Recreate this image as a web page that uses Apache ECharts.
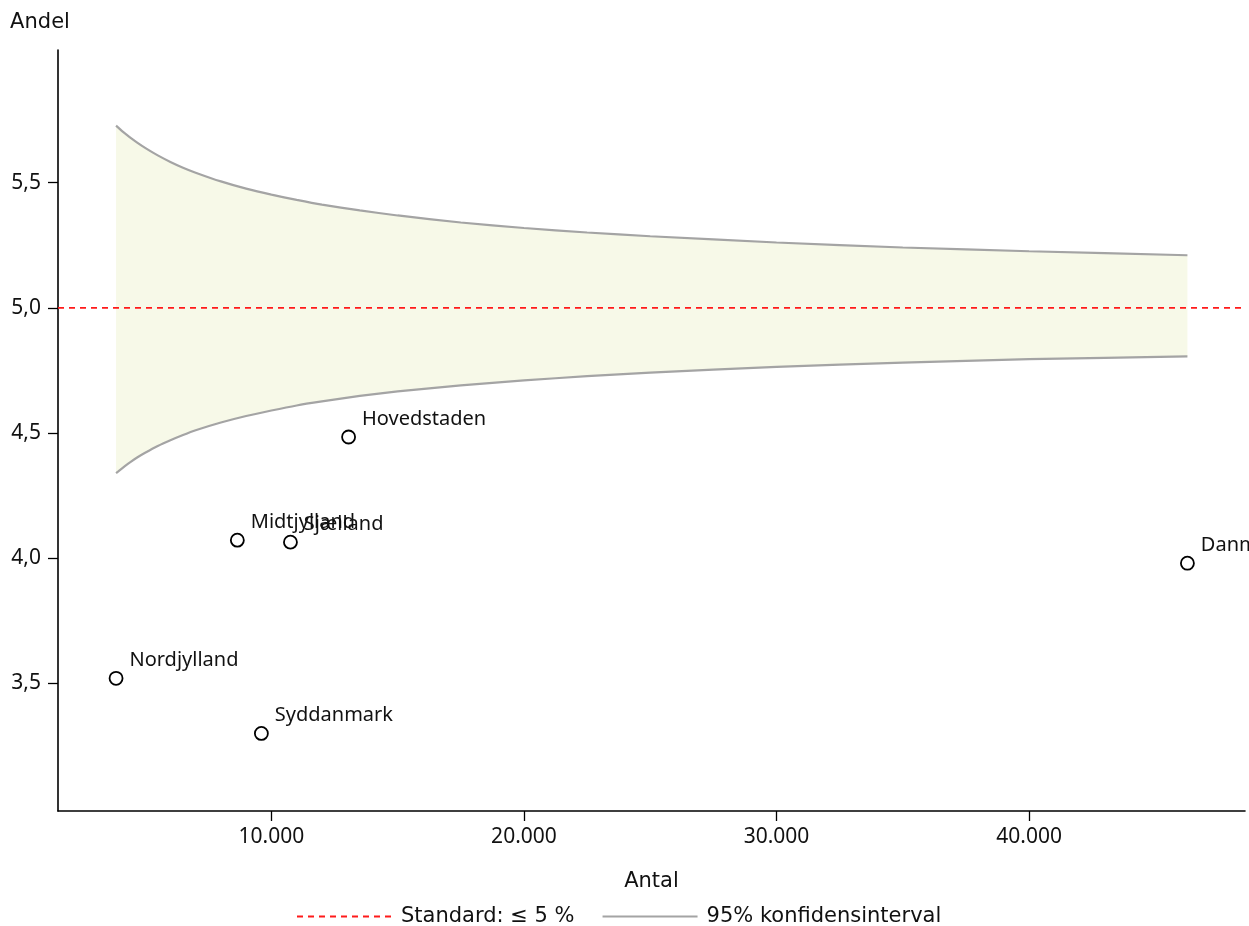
<!DOCTYPE html>
<html>
<head>
<meta charset="utf-8">
<script src="https://cdn.jsdelivr.net/npm/echarts@6/dist/echarts.min.js"></script>
<style>html,body{margin:0;padding:0;background:#fff}#c{width:1249px;height:926px}</style>
</head>
<body>
<div id="c"></div>
<script>
// Regions (points)
const regions = ['Nordjylland', 'Midtjylland', 'Sjælland', 'Syddanmark', 'Hovedstaden', 'Danmark'];
const antal = [3849, 8651, 10754, 9603, 13056, 46270];
const andel = [3.52, 4.072, 4.064, 3.30, 4.484, 3.98];

// Confidence band
const bandN = [3849, 3950, 4100, 4250, 4400, 4700, 5000, 5500, 6000, 6500, 7000, 8000, 9000, 10000, 11000, 12000, 13500, 15000, 17500, 20000, 22500, 25000, 30000, 35000, 40000, 46270];
const bandUpper = [5.728, 5.719, 5.705, 5.693, 5.681, 5.659, 5.639, 5.609, 5.583, 5.560, 5.540, 5.505, 5.476, 5.452, 5.431, 5.412, 5.389, 5.369, 5.341, 5.319, 5.301, 5.286, 5.261, 5.241, 5.226, 5.210];
const bandLower = [4.340, 4.348, 4.360, 4.372, 4.383, 4.403, 4.421, 4.448, 4.471, 4.492, 4.511, 4.542, 4.568, 4.590, 4.610, 4.626, 4.648, 4.666, 4.690, 4.710, 4.727, 4.741, 4.764, 4.781, 4.795, 4.806];

const standard = 5.0;
const xTicks = [10000, 20000, 30000, 40000];
const yTicks = [3.5, 4.0, 4.5, 5.0, 5.5];
const xMin = 1550, xMax = 48550, yMin = 2.99, yMax = 6.03;

const chart = echarts.init(document.getElementById('c'), null, {renderer: 'canvas'});
const txt = '#111';
const labelFont = 'Noto Sans';
const mainFont = 'DejaVu Sans';

const fmtX = v => String(Math.round(v)).replace(/\B(?=(\d{3})+(?!\d))/g, '.');
const fmtY = v => v.toFixed(1).replace('.', ',');

chart.setOption({
  animation: false,
  grid: {left: 58, right: 4, top: 50, bottom: 115, containLabel: false},
  legend: {
    left: 291, top: 901,
    itemWidth: 95, itemHeight: 14, itemGap: 27,
    data: ['Standard: ≤ 5 %', '95% konfidensinterval'],
    itemStyle: {opacity: 0},
    textStyle: {fontFamily: mainFont, fontSize: 21, color: txt, padding: [0, 0, 0, 4]},
    selectedMode: false
  },
  xAxis: {
    type: 'value', min: xMin, max: xMax,
    name: 'Antal', nameLocation: 'middle', nameGap: 60,
    nameTextStyle: {fontFamily: mainFont, fontSize: 21, color: txt},
    axisLine: {show: true, onZero: false, lineStyle: {color: '#000', width: 1.6}},
    axisTick: {show: true, length: 10, customValues: xTicks, lineStyle: {color: '#000', width: 1.3}},
    axisLabel: {customValues: xTicks, formatter: fmtX, margin: 16, fontFamily: labelFont, fontSize: 21, color: txt},
    splitLine: {show: false}
  },
  yAxis: {
    type: 'value', min: yMin, max: yMax,
    name: 'Andel', nameLocation: 'end', nameGap: 17,
    nameTextStyle: {fontFamily: mainFont, fontSize: 21, color: txt, align: 'center', padding: [0, 36, 0, 0]},
    axisLine: {show: true, onZero: false, lineStyle: {color: '#000', width: 1.6}},
    axisTick: {show: true, length: 10, customValues: yTicks, lineStyle: {color: '#000', width: 1.3}},
    axisLabel: {customValues: yTicks, formatter: fmtY, margin: 17, fontFamily: labelFont, fontSize: 21, color: txt},
    splitLine: {show: false}
  },
  series: [
    {
      name: 'band', type: 'custom',
      data: bandN.map((n, i) => [n, bandLower[i], bandUpper[i]]),
      renderItem: function (params, api) {
        if (params.dataIndex !== 0) return null;
        const pts = [];
        for (let i = 0; i < bandN.length; i++) pts.push(api.coord([bandN[i], bandUpper[i]]));
        for (let i = bandN.length - 1; i >= 0; i--) pts.push(api.coord([bandN[i], bandLower[i]]));
        return {type: 'polygon', shape: {points: pts}, style: {fill: '#f7f9e8', stroke: null}, silent: true};
      },
      encode: {x: 0, y: [1, 2]},
      z: 1, silent: true, clip: true
    },
    {
      name: '95% konfidensinterval', type: 'line',
      data: bandN.map((n, i) => [n, bandUpper[i]]),
      symbol: 'none', showSymbol: false, smooth: 0.2,
      lineStyle: {color: '#a4a4a4', width: 2.2},
      itemStyle: {color: '#a4a4a4'},
      z: 2, silent: true
    },
    {
      name: '95% konfidensinterval', type: 'line',
      data: bandN.map((n, i) => [n, bandLower[i]]),
      symbol: 'none', showSymbol: false, smooth: 0.2,
      lineStyle: {color: '#a4a4a4', width: 2.2},
      itemStyle: {color: '#a4a4a4'},
      z: 2, silent: true
    },
    {
      name: 'Standard: ≤ 5 %', type: 'line',
      data: [[xMin, standard], [xMax, standard]],
      symbol: 'none', showSymbol: false,
      lineStyle: {color: '#ff1a1a', width: 1.9, type: [6, 5]},
      itemStyle: {color: '#ff1a1a'},
      z: 3, silent: true
    },
    {
      name: 'Regioner', type: 'scatter',
      data: antal.map((n, i) => ({value: [n, andel[i]], name: regions[i]})),
      symbol: 'circle', symbolSize: 13,
      itemStyle: {color: '#fff', borderColor: '#000', borderWidth: 1.8, opacity: 1},
      label: {
        show: true, position: 'right', distance: 5,
        formatter: p => p.name,
        fontFamily: labelFont, fontSize: 20, color: txt
      },
      labelLayout: {dx: 1, dy: -18, hideOverlap: false},
      z: 5
    }
  ]
});
</script>
</body>
</html>
